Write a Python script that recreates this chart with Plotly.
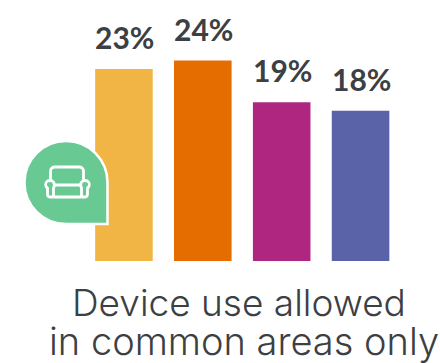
import plotly.graph_objects as go

W, H = 440, 363

categories = ["A", "B", "C", "D"]
values = [23, 24, 19, 18]
colors = ["#F1B546", "#E56D00", "#AF2681", "#5A62A8"]
caption_lines = ["Device use allowed", "in common areas only"]

TEXT = "#3C4043"
LABEL_FONT = "Lato"
CAPTION_FONT = "Inter"


def px(x):
    return x / W


def py(y):
    return 1 - y / H


def path(cmds):
    """Build an SVG path in paper coordinates from pixel-space commands."""
    out = []
    for c in cmds:
        op, pts = c[0], c[1:]
        out.append(op + " ".join(f"{px(x):.5f},{py(y):.5f}" for x, y in pts))
    return " ".join(out)


def rounded_drop(cx, cy, r):
    k = 0.5523 * r
    return path([
        ("M", (cx, cy - r)),
        ("C", (cx + k, cy - r), (cx + r, cy - k), (cx + r, cy)),
        ("L", (cx + r, cy + r)),
        ("L", (cx, cy + r)),
        ("C", (cx - k, cy + r), (cx - r, cy + k), (cx - r, cy)),
        ("C", (cx - r, cy - k), (cx - k, cy - r), (cx, cy - r)),
    ]) + " Z"


# Sofa pictogram outline
sofa_back = path([
    ("M", (50.5, 180)),
    ("L", (50.5, 171)),
    ("C", (50.5, 168.5), (52.5, 167), (55, 167)),
    ("L", (79, 167)),
    ("C", (81.5, 167), (83.5, 168.5), (83.5, 171)),
    ("L", (83.5, 180)),
])
sofa_right = path([
    ("M", (81.5, 197)),
    ("L", (85, 197)),
    ("C", (87, 197), (87.5, 196), (87.5, 194)),
    ("L", (87.5, 188)),
    ("C", (89.5, 186.5), (90, 184), (88.5, 182)),
    ("C", (87, 180), (83, 180), (81.5, 182)),
    ("C", (80.5, 183.5), (80.5, 186), (81.5, 188)),
    ("L", (81.5, 197)),
])
sofa_left = path([
    ("M", (53.5, 197)),
    ("L", (50, 197)),
    ("C", (48, 197), (47.5, 196), (47.5, 194)),
    ("L", (47.5, 188)),
    ("C", (45.5, 186.5), (45, 184), (46.5, 182)),
    ("C", (48, 180), (52, 180), (53.5, 182)),
    ("C", (54.5, 183.5), (54.5, 186), (53.5, 188)),
    ("L", (53.5, 197)),
])
sofa_seat = path([("M", (53.5, 185)), ("L", (81.5, 185)),
                  ("M", (53.5, 197)), ("L", (81.5, 197))])

shapes = [
    dict(type="path", xref="paper", yref="paper", path=rounded_drop(66, 182.5, 41.5),
         fillcolor="#68C993", line=dict(color="white", width=2.5)),
]
for d in (sofa_back, sofa_right, sofa_left, sofa_seat):
    shapes.append(dict(type="path", xref="paper", yref="paper", path=d,
                       line=dict(color="white", width=2.8)))

annotations = [
    dict(text=caption_lines[0], x=px(239), y=py(302), xref="paper", yref="paper",
         showarrow=False, xanchor="center", yanchor="middle",
         font=dict(family=CAPTION_FONT, size=37, color=TEXT, weight=300)),
    dict(text=caption_lines[1], x=px(243.5), y=py(341), xref="paper", yref="paper",
         showarrow=False, xanchor="center", yanchor="middle",
         font=dict(family=CAPTION_FONT, size=38, color=TEXT, weight=300)),
]

# Value labels float above each bar
for cat, val in zip(categories, values):
    annotations.append(dict(
        text=f"{val}%", x=cat, y=val, xref="x", yref="y",
        showarrow=False, xanchor="center", yanchor="bottom", yshift=12, xshift=0.5,
        font=dict(family=LABEL_FONT, size=30, color=TEXT, weight=700),
    ))

fig = go.Figure(go.Bar(
    x=categories,
    y=values,
    marker=dict(color=colors, line=dict(width=0)),
    hoverinfo="skip",
))

fig.update_layout(
    width=W,
    height=H,
    margin=dict(l=0, r=0, t=0, b=0),
    paper_bgcolor="white",
    plot_bgcolor="white",
    showlegend=False,
    bargap=0.27,
    shapes=shapes,
    annotations=annotations,
    xaxis=dict(domain=[84.5 / W, 400 / W], visible=False),
    yaxis=dict(domain=[102 / H, 1], range=[0, 261 / 8.35], visible=False),
)

fig.write_html("out.html")
